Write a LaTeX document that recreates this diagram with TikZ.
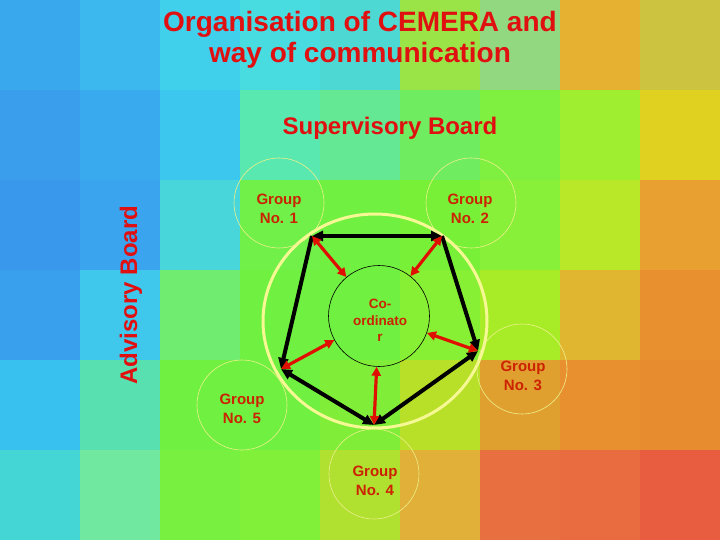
\documentclass[tikz,border=0pt]{standalone}
\usepackage{fontspec}
\setmainfont{Liberation Sans}
\usepackage{xcolor}
\usetikzlibrary{arrows.meta, positioning}

\definecolor{titlered}{HTML}{E01010}
\definecolor{grpred}{HTML}{CC2200}
\definecolor{ringyellow}{HTML}{F6F894}
\definecolor{thinyellow}{HTML}{EEF08A}
\definecolor{linkred}{HTML}{E01000}

\begin{document}
\begin{tikzpicture}[x=1pt, y=-1pt,
        headtext/.style={text=titlered, font=\fontsize{28}{31}\selectfont\bfseries, anchor=base, inner sep=0pt},
        boardtext/.style={text=titlered, font=\fontsize{24}{28}\selectfont\bfseries, anchor=base, inner sep=0pt},
        grpring/.style={circle, draw=thinyellow, line width=0.6pt, minimum size=90pt, inner sep=0pt},
        grplabel/.style={text=grpred, font=\fontsize{15}{19}\selectfont\bfseries, align=center, inner sep=0pt},
        pentedge/.style={black, line width=4pt, >={Triangle[length=11pt, width=10pt]}},
        linkarrow/.style={linkred, line width=3.2pt, {Triangle[length=9pt, width=9pt]}-{Triangle[length=9pt, width=9pt]}}]
    \useasboundingbox (0,0) rectangle (720,540);

    % background tiles
    \foreach \row [count=\j from 0] in {
            {3AA8EC,3CB8EE,40D0EC,48DCE0,4ED8D4,9AE448,92D880,E6B030,CCC440},
            {3A9EEC,3AAAEE,3CC8EE,58E8B0,64E894,70EC60,80F040,A0EE30,E0D020},
            {3A98EC,3AA4EE,48D6DA,70F048,70F040,78F038,88F038,B8E828,E8A030},
            {38A0EC,40C8EC,70EC70,70F040,70F040,88F034,A8EC28,E0B630,E89030},
            {38C0EE,58E0B0,70F040,70F040,80EE38,B8E028,E0A030,E89030,E88C30},
            {44D6D4,70E8A0,78F040,80F038,B0E030,E0B038,E87040,E86C40,E85C40}} {
        \foreach \c [count=\i from 0] in \row {
            \edef\settile{\noexpand\definecolor{tile}{HTML}{\c}}\settile
            \fill[tile] (\i*80,\j*90) rectangle ++(80,90);
        }
    }

    % titles
    \node[headtext] (title1) at (360,32) {Organisation of CEMERA and};
    \node[headtext] (title2) at (360,63) {way of communication};
    \node[boardtext] (superv) at (390,135) {Supervisory Board};
    \node[boardtext, rotate=90] (advis) at (137,295) {Advisory Board};

    % rings
    \draw[ringyellow, line width=3pt] (375,321) ellipse[x radius=112, y radius=107];
    \node[circle, draw=black, line width=0.6pt, minimum size=101pt, inner sep=0pt] (coord) at (379,316) {};
    \node[grplabel, font=\fontsize{13.5}{16.5}\selectfont\bfseries] (coordtext) at (380,320.5) {Co-\\ordinato\\r};

    \node[grpring] (g1) at (279,203) {};
    \node[grpring] (g2) at (471,203) {};
    \node[grpring] (g3) at (522,369) {};
    \node[grpring] (g4) at (374,474) {};
    \node[grpring] (g5) at (242,405) {};
    \node[grplabel] (g1text) at (279,208.5) {Group\\No. 1};
    \node[grplabel] (g2text) at (470,208.5) {Group\\No. 2};
    \node[grplabel] (g3text) at (523,376) {Group\\No. 3};
    \node[grplabel] (g4text) at (375,480.5) {Group\\No. 4};
    \node[grplabel] (g5text) at (242,409) {Group\\No. 5};

    % pentagon corners
    \coordinate (v1) at (312,236);
    \coordinate (v2) at (442,236);
    \coordinate (v3) at (478,351);
    \coordinate (v4) at (374,425);
    \coordinate (v5) at (281,369);

    \draw[pentedge, <->] (v1) -- (v2);
    \draw[pentedge, ->] (v2) -- (v3);
    \draw[pentedge, <->] (v3) -- (v4);
    \draw[pentedge, <->] (v4) -- (v5);
    \draw[pentedge, ->] (v1) -- (v5);

    \foreach \v in {v1,v2,v3,v4,v5}
        \draw[linkarrow] (\v) -- (coord);
\end{tikzpicture}
\end{document}
